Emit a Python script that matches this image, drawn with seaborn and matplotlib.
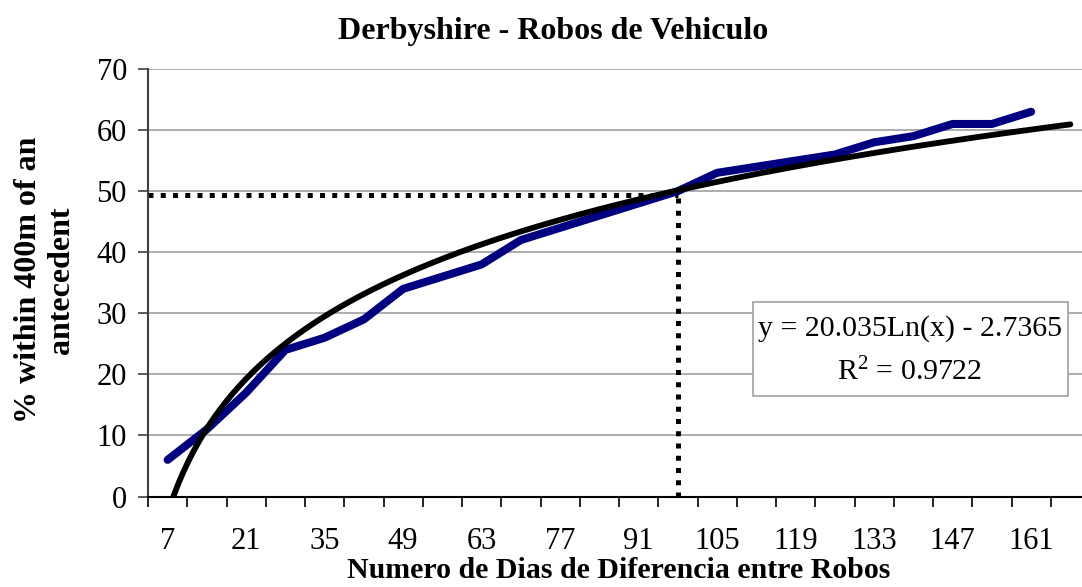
import matplotlib
matplotlib.use("Agg")
import matplotlib.pyplot as plt
from matplotlib.patches import Rectangle
import seaborn as sns
import numpy as np
import pandas as pd

# ---- data ----
days = [7, 14, 21, 28, 35, 42, 49, 56, 63, 70, 77, 84, 91, 98, 105, 112,
        119, 126, 133, 140, 147, 154, 161, 168]
pct = [6, 11, 17, 24, 26, 29, 34, 36, 38, 42, 44, 46, 48, 50, 53, 54, 55,
       56, 58, 59, 61, 61, 63]
trend_a = 20.035
trend_b = -2.7365
r2 = 0.9722
ref_day = 98
ref_pct = 49.3
y_ticks = [0, 10, 20, 30, 40, 50, 60, 70]

title = "Derbyshire - Robos de Vehiculo"
xlabel = "Numero de Dias de Diferencia entre Robos"
ylabel = "% within 400m of an\nantecedent"

sns.set_style("white")
plt.rcParams['font.family'] = ['Liberation Serif', 'DejaVu Serif']
plt.rcParams['mathtext.fontset'] = 'custom'
plt.rcParams['mathtext.rm'] = 'Liberation Serif'
plt.rcParams['mathtext.it'] = 'Liberation Serif:italic'
plt.rcParams['text.color'] = 'black'
plt.rcParams['xtick.color'] = 'black'
plt.rcParams['ytick.color'] = 'black'
plt.rcParams['axes.labelcolor'] = 'black'

W, H = 1082, 587
fig = plt.figure(figsize=(W / 100, H / 100), dpi=100)
ax = fig.add_axes([148 / W, (H - 496.5) / H, 942 / W, 427.5 / H])

pos = np.arange(1, len(days) + 1)
ref_pos = days.index(ref_day) + 1

# dotted reference lines
dot = dict(color='black', lw=3.6, linestyle=(0, (1, 1.45)),
           dash_capstyle='butt', zorder=2)
ax.plot([0.5, ref_pos], [ref_pct, ref_pct], **dot)
ax.plot([ref_pos, ref_pos], [0, ref_pct], **dot)

df = pd.DataFrame({'pos': pos[:len(pct)], 'pct': pct})
sns.lineplot(data=df, x='pos', y='pct', color='#000080', lw=5.8, ax=ax,
             solid_capstyle='round', solid_joinstyle='round', zorder=3)

xs = np.linspace(1, len(days), 400)
tr = pd.DataFrame({'pos': xs, 'y': trend_a * np.log(xs) + trend_b})
sns.lineplot(data=tr, x='pos', y='y', color='black', lw=4.2, ax=ax,
             solid_capstyle='round', zorder=4)

ax.set_xlim(0.5, len(days) + 0.5)
ax.set_ylim(0, 70)
ax.set_yticks(y_ticks)
ax.set_yticklabels([str(v) for v in y_ticks], fontsize=22)
ax.set_xticks(pos[::2])
ax.set_xticklabels([str(d) for d in days[::2]], fontsize=22)
ax.set_xticks(np.arange(0.5, len(days) + 1, 1), minor=True)
ax.tick_params(axis='x', which='major', length=0, pad=22, labelcolor='black')
ax.tick_params(axis='x', which='minor', length=7.2, width=1.2,
               direction='out', color='black', bottom=True)
ax.tick_params(axis='y', which='major', length=7.2, width=1.2,
               direction='out', color='#404040', left=True, pad=8,
               labelcolor='black')
ax.set_xlabel('')
ax.set_ylabel('')

ax.yaxis.grid(True, color='#a0a0a0', lw=1.2)
ax.xaxis.grid(False)
for s in ['top', 'right']:
    ax.spines[s].set_visible(False)
ax.spines['left'].set_color('#404040')
ax.spines['left'].set_linewidth(1.5)
ax.spines['bottom'].set_color('black')
ax.spines['bottom'].set_linewidth(1.5)
ax.set_axisbelow(True)

# equation box
fig.add_artist(Rectangle((753 / W, 1 - 396 / H), (1068 - 753) / W, 94 / H,
                         transform=fig.transFigure, facecolor='white',
                         edgecolor='#a0a0a0', lw=1.2, zorder=5))
fig.text(910 / W, 1 - 329 / H, f"y = {trend_a}Ln(x) - {abs(trend_b)}",
         ha='center', va='center', fontsize=21.5, zorder=6, color='black')
fig.text(910 / W, 1 - 372 / H, "R$^{2}$" + f" = {r2}",
         ha='center', va='center', fontsize=21.5, zorder=6, color='black')

fig.text(553 / W, 1 - 31 / H, title, ha='center', va='center',
         fontsize=23, fontweight='bold', color='black')
fig.text(619 / W, 1 - 571 / H, xlabel, ha='center', va='center',
         fontsize=21.5, fontweight='bold', color='black')
fig.text(45 / W, 1 - 280 / H, ylabel, ha='center', va='center',
         rotation=90, fontsize=23, fontweight='bold', linespacing=1.15,
         color='black')

fig.savefig('out.png', dpi=100)
